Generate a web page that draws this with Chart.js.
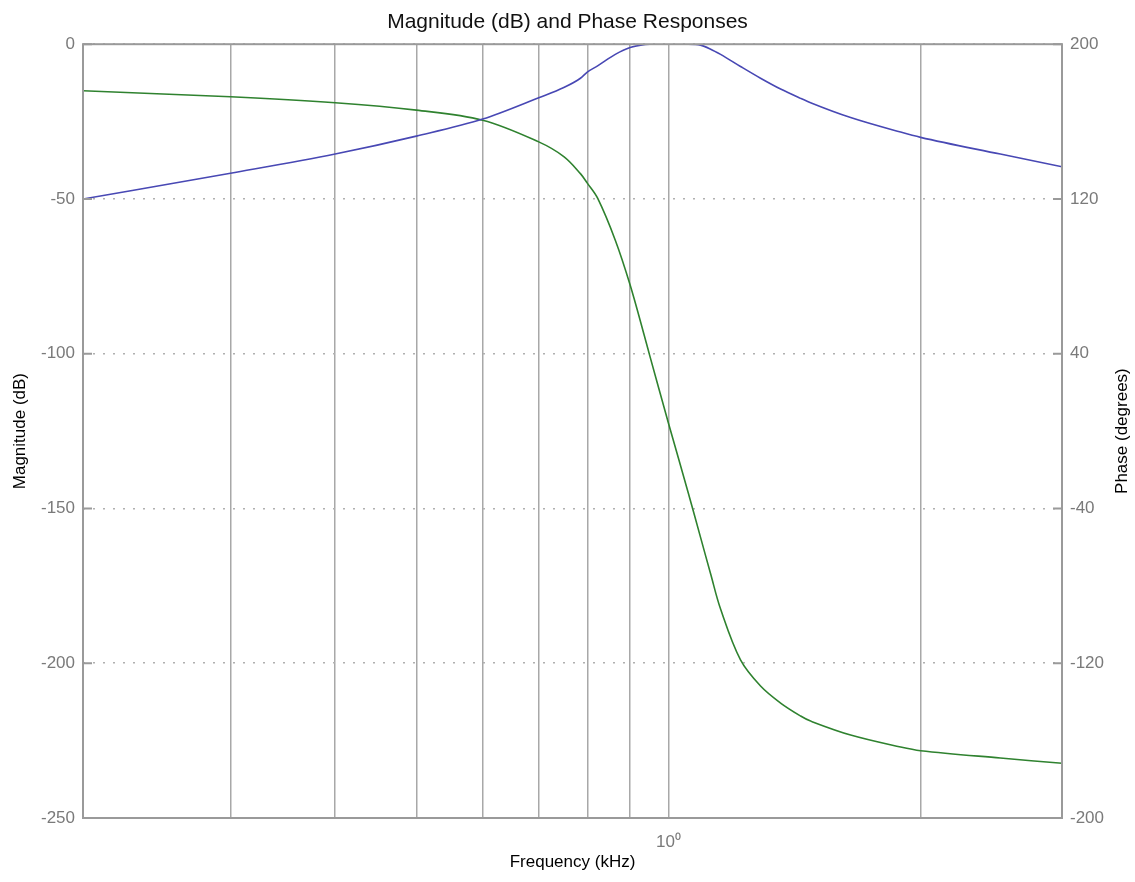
<!DOCTYPE html>
<html lang="en">
<head>
  <meta charset="UTF-8">
  <title>Magnitude (dB) and Phase Responses</title>
  <script src="https://cdn.jsdelivr.net/npm/chart.js"></script>
  <style>
    body { margin: 0; background: #fff; }
  </style>
</head>
<body>
  <canvas id="respChart" width="1135" height="882"></canvas>

  <script>
    // frequency in kHz
    const freqKHz = [0.2, 0.3, 0.4, 0.5, 0.6, 0.7, 0.75, 0.785, 0.8, 0.823, 0.864, 0.9, 0.939, 0.95, 1.0,
                     1.056, 1.092, 1.123, 1.154, 1.219, 1.288, 1.361, 1.438, 1.478, 1.65, 1.893, 2.0, 2.49, 2.95];
    const magnitudeDb = [-50, -41.7, -35.5, -29.7, -24.2, -17.3, -14.0, -11.0, -9.0, -7.0, -3.3, -1.1, -0.1, 0, 0,
                         0, -0.3, -1.6, -3.3, -7.2, -11, -14.5, -17.5, -18.9, -23.7, -28.4, -30.1, -35.5, -39.6];
    const phaseDeg = [175.9, 172.8, 169.7, 165.9, 160.7, 149.5, 141.9, 133.1, 128.2, 120.4, 98.7, 75.5, 47.0, 38.9, 4.1,
                      -32.0, -54.8, -73.9, -92, -118.3, -131.8, -140.6, -147.3, -149.9, -157.1, -163.3, -165.2, -169, -171.7];

    const freqGrid = [0.2, 0.3, 0.4, 0.5, 0.6, 0.7, 0.8, 0.9, 1, 2];
    const magTicks = [-250, -200, -150, -100, -50, 0];
    const phaseTicks = [-200, -120, -40, 40, 120, 200];

    const FONT = "'Liberation Sans', Arial, sans-serif";
    const tickGray = '#7a7a7a';

    // plot frame, small inner tick marks, right-hand label (reads bottom to top)
    const framePlugin = {
      id: 'frame',
      afterDatasetsDraw(chart) {
        const a = chart.chartArea;
        const c = chart.ctx;
        c.save();
        c.strokeStyle = '#9a9a9a';
        c.lineWidth = 2;
        c.strokeRect(a.left, a.top, a.right - a.left, a.bottom - a.top);
        c.beginPath();
        magTicks.forEach(v => {
          const y = chart.scales.y.getPixelForValue(v);
          c.moveTo(a.left, y); c.lineTo(a.left + 9, y);
        });
        phaseTicks.forEach(v => {
          const y = chart.scales.y2.getPixelForValue(v);
          c.moveTo(a.right - 9, y); c.lineTo(a.right, y);
        });
        c.stroke();
        c.restore();
      },
      afterDraw(chart) {
        const a = chart.chartArea;
        const c = chart.ctx;
        c.save();
        c.translate(1122, (a.top + a.bottom) / 2);
        c.rotate(-Math.PI / 2);
        c.font = '17px ' + FONT;
        c.fillStyle = '#000';
        c.textAlign = 'center';
        c.textBaseline = 'middle';
        c.fillText('Phase (degrees)', 0, 0);
        c.restore();
      }
    };

    const ctx = document.getElementById('respChart').getContext('2d');
    const respChart = new Chart(ctx, {
      type: 'line',
      data: {
        datasets: [{
          label: 'Magnitude (dB)',
          data: freqKHz.map((f, i) => ({ x: f, y: magnitudeDb[i] })),
          borderColor: '#4848b4',
          borderWidth: 1.6,
          pointRadius: 0,
          cubicInterpolationMode: 'monotone',
          yAxisID: 'y'
        }, {
          label: 'Phase (degrees)',
          data: freqKHz.map((f, i) => ({ x: f, y: phaseDeg[i] })),
          borderColor: '#2f822f',
          borderWidth: 1.6,
          pointRadius: 0,
          tension: 0.35,
          yAxisID: 'y2'
        }]
      },
      options: {
        responsive: false,
        animation: false,
        devicePixelRatio: 1,
        layout: { padding: 0 },
        plugins: {
          legend: { display: false },
          tooltip: { enabled: false },
          title: {
            display: true,
            text: 'Magnitude (dB) and Phase Responses',
            color: '#111',
            font: { family: FONT, size: 21, weight: 'normal' },
            padding: { top: 10, bottom: 9 }
          }
        },
        scales: {
          x: {
            type: 'logarithmic',
            min: 0.2,
            max: 2.95,
            afterBuildTicks: s => { s.ticks = freqGrid.map(v => ({ value: v })); },
            afterFit: s => { s.height = 64; },
            border: { display: false },
            grid: { color: '#a8a8a8', lineWidth: 1.5, drawTicks: false },
            ticks: {
              autoSkip: false,
              maxRotation: 0,
              padding: 14,
              color: tickGray,
              font: { family: FONT, size: 17 },
              callback: v => (v === 1 ? '10\u2070' : '')
            },
            title: {
              display: true,
              text: 'Frequency (kHz)',
              color: '#000',
              font: { family: FONT, size: 17 },
              padding: { top: 0, bottom: 9 }
            }
          },
          y: {
            position: 'left',
            min: -250,
            max: 0,
            afterBuildTicks: s => { s.ticks = magTicks.map(v => ({ value: v })); },
            afterFit: s => { s.width = 83; },
            border: { display: false, dash: [2, 8] },
            grid: { color: '#b0b0b0', lineWidth: 1.5, drawTicks: false },
            ticks: { padding: 8, color: tickGray, font: { family: FONT, size: 17 } },
            title: {
              display: true,
              text: 'Magnitude (dB)',
              color: '#000',
              font: { family: FONT, size: 17 },
              padding: { top: 10, bottom: 0 }
            }
          },
          y2: {
            position: 'right',
            min: -200,
            max: 200,
            afterBuildTicks: s => { s.ticks = phaseTicks.map(v => ({ value: v })); },
            afterFit: s => { s.width = 73; },
            border: { display: false },
            grid: { drawOnChartArea: false, drawTicks: false },
            ticks: { padding: 8, color: tickGray, font: { family: FONT, size: 17 } }
          }
        }
      },
      plugins: [framePlugin]
    });
  </script>
</body>
</html>
